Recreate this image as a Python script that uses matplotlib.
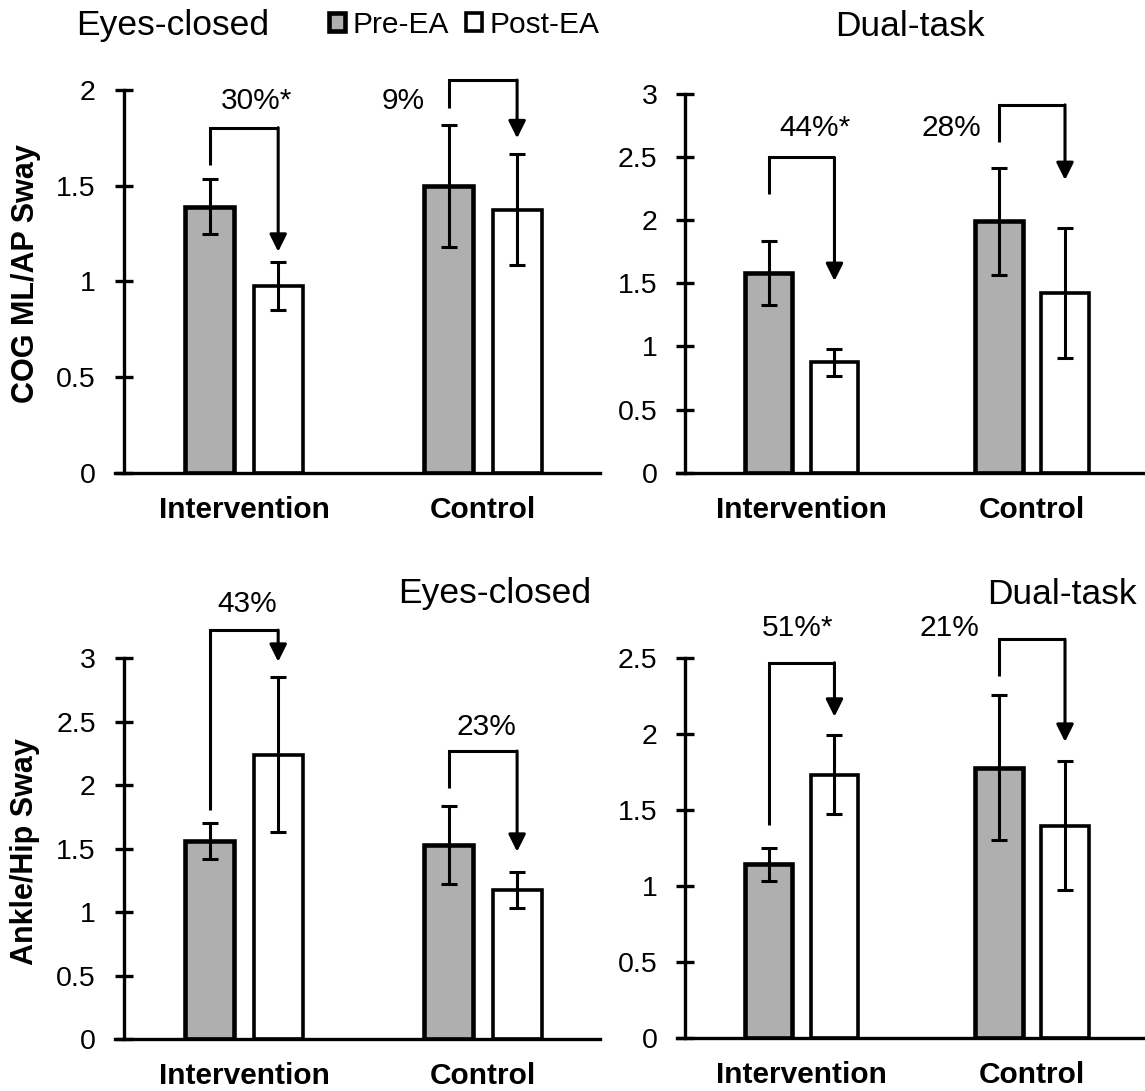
import numpy as np
import matplotlib
matplotlib.use("Agg")
import matplotlib.pyplot as plt

plt.rcParams['font.family'] = ['Liberation Sans', 'DejaVu Sans']

categories = ['Intervention', 'Control']

cog_ec_pre = [1.39, 1.50]
cog_ec_pre_err = [0.143, 0.318]
cog_ec_post = [0.975, 1.374]
cog_ec_post_err = [0.125, 0.29]

cog_dt_pre = [1.58, 1.99]
cog_dt_pre_err = [0.255, 0.42]
cog_dt_post = [0.876, 1.424]
cog_dt_post_err = [0.107, 0.515]

ah_ec_pre = [1.564, 1.53]
ah_ec_pre_err = [0.142, 0.31]
ah_ec_post = [2.24, 1.176]
ah_ec_post_err = [0.61, 0.14]

ah_dt_pre = [1.145, 1.78]
ah_dt_pre_err = [0.108, 0.477]
ah_dt_post = [1.735, 1.40]
ah_dt_post_err = [0.262, 0.423]

cog_ec_pct = ['30%*', '9%']
cog_dt_pct = ['44%*', '28%']
ah_ec_pct = ['43%', '23%']
ah_dt_pct = ['51%*', '21%']

# annotation geometry: (bracket bottom, bracket top, arrow tip, text x, text y)
cog_ec_ann = [(1.608, 1.803, 1.155, 0.051, 1.944), (1.904, 2.052, 1.748, 0.665, 1.944)]
cog_dt_ann = [(2.208, 2.497, 1.519, 0.059, 2.729), (2.623, 2.914, 2.319, 0.648, 2.729)]
ah_ec_ann = [(1.806, 3.222, 2.973, 0.015, 3.428), (1.976, 2.270, 1.477, 1.013, 2.461)]
ah_dt_ann = [(1.403, 2.471, 2.116, -0.017, 2.697), (2.384, 2.625, 1.951, 0.643, 2.697)]

W, H = 1145, 1091
fig = plt.figure(figsize=(W / 100, H / 100), dpi=100)

def px_axes(x0, x1, ybot, ytop):
    return fig.add_axes([x0 / W, 1 - ybot / H, (x1 - x0) / W, (ybot - ytop) / H])

panels = [
    (px_axes(115, 600, 472.7, 90), 2.0, cog_ec_pre, cog_ec_pre_err, cog_ec_post, cog_ec_post_err, cog_ec_pct, cog_ec_ann),
    (px_axes(677, 1145, 472.7, 94), 3.0, cog_dt_pre, cog_dt_pre_err, cog_dt_post, cog_dt_post_err, cog_dt_pct, cog_dt_ann),
    (px_axes(115, 600, 1039.3, 658.3), 3.0, ah_ec_pre, ah_ec_pre_err, ah_ec_post, ah_ec_post_err, ah_ec_pct, ah_ec_ann),
    (px_axes(677, 1145, 1038.3, 658.3), 2.5, ah_dt_pre, ah_dt_pre_err, ah_dt_post, ah_dt_post_err, ah_dt_pct, ah_dt_ann),
]

x = np.arange(len(categories))
off = 0.143
bw = 0.205
LW = 2.2
SLW = 2.4
handles = None
for ax, ymax, pre, pre_err, post, post_err, pct, ann in panels:
    ekw = dict(elinewidth=LW, capsize=5.5, capthick=LW, ecolor='black')
    b1 = ax.bar(x - off, pre, width=bw, color='#afafaf', edgecolor='black', linewidth=3.3,
                yerr=pre_err, error_kw=ekw, label='Pre-EA')
    b2 = ax.bar(x + off, post, width=bw, color='white', edgecolor='black', linewidth=2.6,
                yerr=post_err, error_kw=ekw, label='Post-EA')
    if handles is None:
        handles = [b1, b2]
    ax.set_xlim(-0.54, 1.49)
    ax.set_ylim(0, ymax)
    ax.spines['left'].set_position(('data', -0.504))
    ax.spines['top'].set_visible(False)
    ax.spines['right'].set_visible(False)
    for s in ('left', 'bottom'):
        ax.spines[s].set_linewidth(SLW)
    yt = np.arange(0, ymax + 0.01, 0.5)
    ax.set_yticks(yt)
    ax.set_yticklabels(['%g' % v for v in yt])
    ax.tick_params(axis='y', direction='inout', length=13, width=SLW, labelsize=20.5, pad=13.5)
    ax.set_xticks(x)
    ax.set_xticklabels(categories, fontweight='bold')
    ax.tick_params(axis='x', length=0, labelsize=21.5, pad=16.5)
    for i, (yb, ytp, tip, tx, ty) in enumerate(ann):
        xl = x[i] - off
        xr = x[i] + off
        ax.plot([xl, xl, xr], [yb, ytp, ytp], color='black', lw=LW, clip_on=False,
                solid_joinstyle='miter', solid_capstyle='butt')
        ax.annotate('', xy=(xr, tip), xytext=(xr, ytp),
                    arrowprops=dict(arrowstyle='-|>', mutation_scale=26, lw=LW, color='black',
                                    shrinkA=0, shrinkB=0),
                    annotation_clip=False)
        ax.text(tx, ty, pct[i], ha='center', va='center', fontsize=21.5)

fig.text(173 / W, 1 - 26 / H, 'Eyes-closed', ha='center', va='center', fontsize=25.5)
fig.text(910 / W, 1 - 27 / H, 'Dual-task', ha='center', va='center', fontsize=25.5)
fig.text(591 / W, 1 - 594 / H, 'Eyes-closed', ha='right', va='center', fontsize=25.5)
fig.text(1137 / W, 1 - 594 / H, 'Dual-task', ha='right', va='center', fontsize=25.5)

fig.text(26 / W, 1 - 274 / H, 'COG ML/AP Sway', rotation=90, ha='center', va='center',
         fontsize=22, fontweight='bold')
fig.text(25 / W, 1 - 852 / H, 'Ankle/Hip Sway', rotation=90, ha='center', va='center',
         fontsize=22, fontweight='bold')

fig.legend(handles=handles, labels=['Pre-EA', 'Post-EA'], loc='center left',
           bbox_to_anchor=(329 / W, 1 - 25 / H), ncol=2, frameon=False, fontsize=21.5,
           handlelength=0.55, handleheight=0.55, handletextpad=0.25, columnspacing=0.55,
           borderpad=0, borderaxespad=0)

fig.savefig('out.png', dpi=100)
